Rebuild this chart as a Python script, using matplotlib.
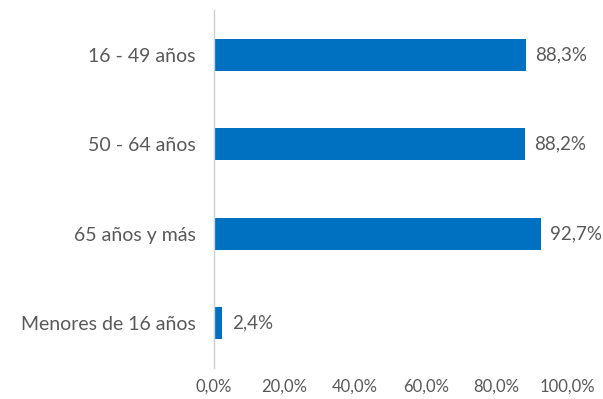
import matplotlib
matplotlib.use("Agg")
import matplotlib.pyplot as plt

categories = ["16 - 49 años", "50 - 64 años", "65 años y más", "Menores de 16 años"]
values = [88.3, 88.2, 92.7, 2.4]
xticks = [0, 20, 40, 60, 80, 100]
xtick_labels = ["0,0%", "20,0%", "40,0%", "60,0%", "80,0%", "100,0%"]

plt.rcParams["font.family"] = ["Lato", "DejaVu Sans"]
text_color = "#595959"
bar_color = "#0070C0"

fig = plt.figure(figsize=(6.03, 3.99), dpi=100)
ax = fig.add_axes([214 / 603, 1 - 368 / 399, (567 - 214) / 603, (368 - 10) / 399])

ypos = list(range(len(categories)))
ax.barh(ypos, values, height=0.36, color=bar_color)
for y, v in zip(ypos, values):
    ax.text(v + 2.6, y, f"{v:.1f}".replace(".", ",") + "%", va="center", ha="left",
            fontsize=13.5, color=text_color)

ax.set_xlim(0, 100)
ax.set_ylim(len(categories) - 0.5, -0.5)
ax.set_yticks(ypos)
ax.set_yticklabels(categories, fontsize=14, color=text_color)
ax.set_xticks(xticks)
ax.set_xticklabels(xtick_labels, fontsize=12, color=text_color)
ax.tick_params(axis="both", length=0)
ax.tick_params(axis="y", pad=13)
ax.tick_params(axis="x", pad=8)
for side in ["top", "right", "bottom"]:
    ax.spines[side].set_visible(False)
ax.spines["left"].set_color("#D0D0D0")
ax.spines["left"].set_linewidth(1.0)

fig.savefig("out.png", dpi=100)
